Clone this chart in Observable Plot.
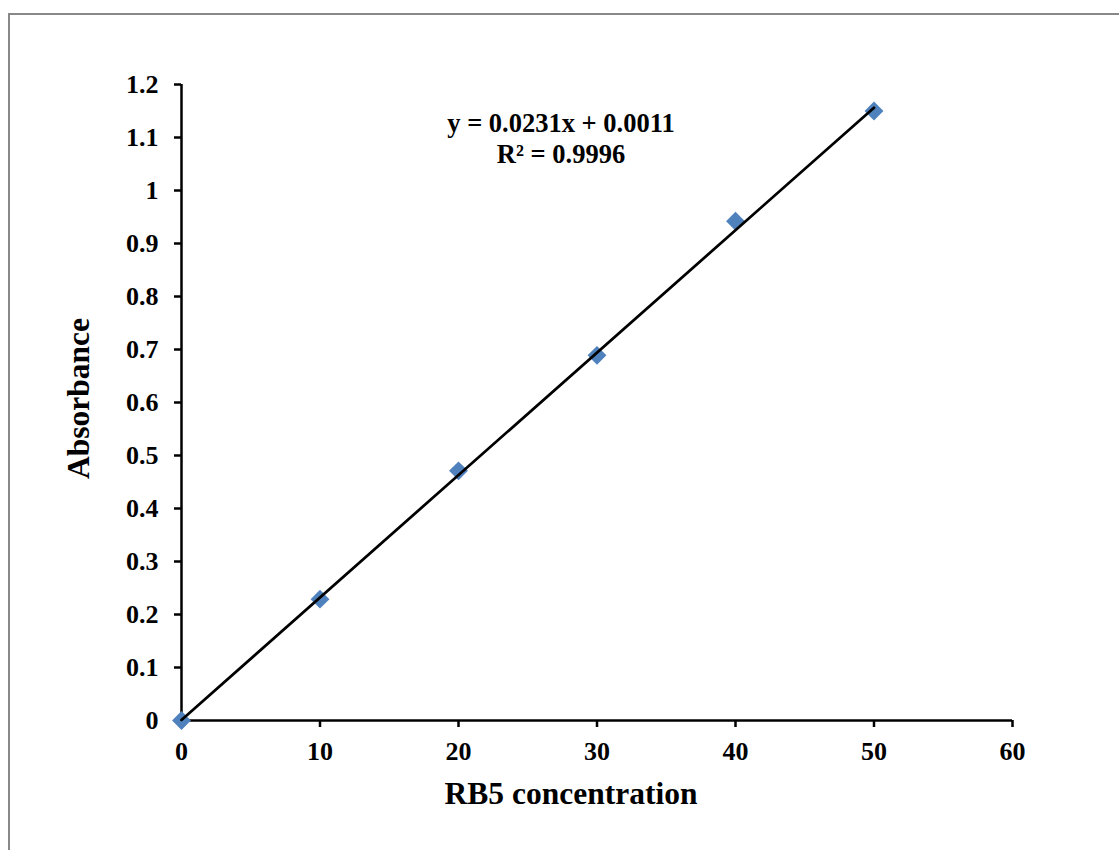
<!DOCTYPE html>
<html>
<head>
<meta charset="utf-8">
<script src="https://cdn.jsdelivr.net/npm/d3@7"></script>
<script src="https://cdn.jsdelivr.net/npm/@observablehq/plot@0.6"></script>
<style>
  html, body { margin: 0; padding: 0; background: #fff; }
  #wrap { position: relative; width: 1119px; height: 850px; overflow: hidden; }
  #frame { position: absolute; left: 8px; top: 13px; width: 1200px; height: 900px;
           border-left: 2px solid #888; border-top: 2px solid #888; box-sizing: border-box; }
  #chart { position: absolute; left: 0; top: 0; }
</style>
</head>
<body>
<div id="wrap"><div id="frame"></div><div id="chart"></div></div>
<script>
// ---- data ----
const concentration = [0, 10, 20, 30, 40, 50];
const absorbance = [0, 0.229, 0.471, 0.689, 0.942, 1.150];
const slope = 0.0231;
const intercept = 0.0011;
const rSquared = 0.9996;
const xTicks = [0, 10, 20, 30, 40, 50, 60];
const yTicks = [0, 0.1, 0.2, 0.3, 0.4, 0.5, 0.6, 0.7, 0.8, 0.9, 1, 1.1, 1.2];
const xTitle = "RB5 concentration";
const yTitle = "Absorbance";

const points = concentration.map((c, i) => ({x: c, y: absorbance[i]}));
const fitX = [0, 50];
const fitLine = fitX.map(x => ({x, y: slope * x + intercept}));
const equation = `y = ${slope}x + ${intercept}\nR² = ${rSquared}`;

const font = "'Liberation Serif', 'Times New Roman', serif";

const chart = Plot.plot({
  width: 1119,
  height: 850,
  marginLeft: 181,
  marginRight: 107,
  marginTop: 84,
  marginBottom: 130,
  style: {fontFamily: font, fontWeight: "bold", fontSize: "26px", color: "black", background: "transparent"},
  x: {domain: [0, 60], label: null},
  y: {domain: [0, 1.2], label: null},
  marks: [
    Plot.axisX(xTicks, {tickSize: 7, tickPadding: 14, strokeWidth: 2.5, fontSize: 26, fontWeight: "bold", tickFormat: d => String(d), label: null}),
    Plot.axisY(yTicks, {tickSize: 7, tickPadding: 16, strokeWidth: 2.5, fontSize: 26, fontWeight: "bold", tickFormat: d => String(d), label: null}),
    Plot.ruleY([0], {x1: 0, x2: 60, stroke: "black", strokeWidth: 2.5}),
    Plot.ruleX([0], {y1: 0, y2: 1.2, stroke: "black", strokeWidth: 2.5}),
    Plot.dot(points, {x: "x", y: "y", symbol: "diamond2", r: 8.5, fill: "#4F81BD", stroke: "none"}),
    Plot.line(fitLine, {x: "x", y: "y", stroke: "black", strokeWidth: 2.75}),
    Plot.text([equation], {frameAnchor: "top", textAnchor: "middle", lineAnchor: "middle", dx: -36, dy: 53, fontSize: 26.5, fontWeight: "bold", lineHeight: 1.17, fill: "black"}),
    Plot.text([xTitle], {frameAnchor: "bottom", textAnchor: "middle", lineAnchor: "middle", dx: -26, dy: 73, fontSize: 31.5, fontWeight: "bold", fill: "black"}),
    Plot.text([yTitle], {frameAnchor: "left", textAnchor: "middle", lineAnchor: "middle", rotate: -90, dx: -103, dy: -4, fontSize: 31.5, fontWeight: "bold", fill: "black"})
  ]
});
document.getElementById("chart").appendChild(chart);
</script>
</body>
</html>
